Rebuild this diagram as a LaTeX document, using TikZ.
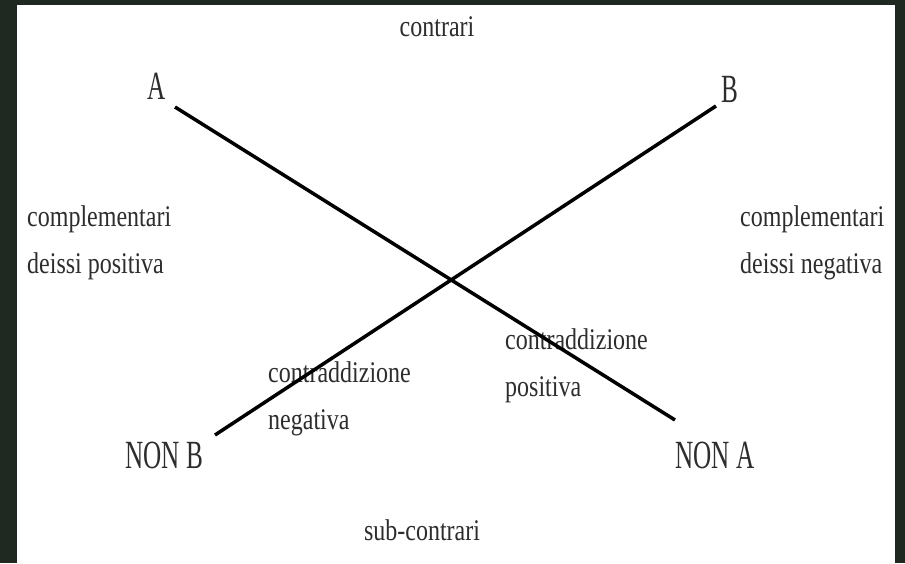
\documentclass[tikz,border=0pt]{standalone}
\usepackage{fontspec}
\setmainfont{Liberation Serif}
\newfontfamily\smallfont[FakeStretch=0.8]{Liberation Serif}
\newfontfamily\bigfont[FakeStretch=0.63]{Liberation Serif}
\definecolor{bgdark}{RGB}{31,41,33}
\definecolor{txt}{RGB}{45,45,45}
\begin{document}
\begin{tikzpicture}[x=1pt,y=-1pt,
  small/.style={inner sep=0pt, text=txt, align=left, font=\smallfont\fontsize{30}{47}\selectfont},
  big/.style={inner sep=0pt, text=txt, font=\bigfont\fontsize{40}{48}\selectfont},
  bar/.style={line width=3.5pt, black}]
\fill[bgdark] (0,0) rectangle (905,563);
\useasboundingbox (0,0) rectangle (905,563);
\fill[white] (17,5) rectangle (895,563);
% labels
\node[small, anchor=base] (contrari) at (437,36) {contrari};
\node[small, anchor=base] (subcontrari) at (422,540) {sub-contrari};
\node[small, anchor=base west] (cpos) at (27,273) {complementari\\deissi positiva};
\node[small, anchor=base west] (cneg) at (740,273) {complementari\\deissi negativa};
\node[small, anchor=base west] (kneg) at (268,429) {contraddizione\\negativa};
\node[small, anchor=base west] (kpos) at (505,396) {contraddizione\\positiva};
\node[big, anchor=base] (A) at (157,99) {A};
\node[big, anchor=base] (B) at (730,102) {B};
\node[big, anchor=base] (nonB) at (164,468) {NON B};
\node[big, anchor=base] (nonA) at (715,468) {NON A};
% line ends
\coordinate (a1) at (175,107);
\coordinate (a2) at (675,420);
\coordinate (b1) at (716,106);
\coordinate (b2) at (215,435);
\draw[bar] (a1) -- (a2);
\draw[bar] (b1) -- (b2);
\end{tikzpicture}
\end{document}
